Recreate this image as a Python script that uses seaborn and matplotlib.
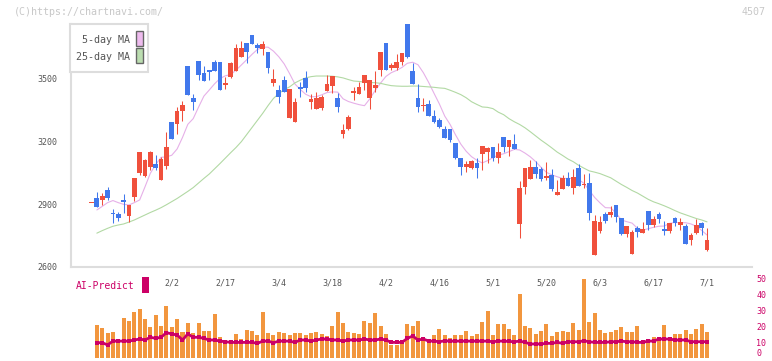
"""Candlestick chart of 4507 with 5/25-day moving averages and AI-Predict volume panel."""
import numpy as np
import pandas as pd
import seaborn as sns
import matplotlib.pyplot as plt
from matplotlib.patches import Rectangle

sns.set_style("white")
plt.rcParams["font.family"] = ["DejaVu Sans Mono"]


############################## Data (one entry per trading day).

opens = [2906, 2889, 2941, 2932, 2855, 2836, 2911, 2897, 3027, 3150,
         3112, 3150, 3075, 3117, 3173, 3214, 3347, 3375, 3425, 3390,
         3521, 3492, 3533, 3537, 3449, 3481, 3576, 3648, 3648, 3629,
         3667, 3648, 3667, 3553, 3500, 3415, 3438, 3452, 3390, 3451,
         3458, 3404, 3407, 3415, 3476, 3514, 3367, 3256, 3317, 3443,
         3462, 3519, 3495, 3471, 3628, 3541, 3567, 3580, 3623, 3607,
         3476, 3367, 3375, 3324, 3296, 3272, 3219, 3208, 3123, 3080,
         3093, 3107, 3072, 3179, 3168, 3123, 3149, 3176, 3208, 3165,
         2977, 3072, 3079, 3047, 3021, 3036, 2973, 2958, 3024, 2988,
         3032, 2988, 2997, 2857, 2820, 2814, 2822, 2865, 2838, 2758,
         2796, 2769, 2766, 2780, 2801, 2828, 2828, 2774, 2809, 2809,
         2817, 2710, 2753, 2801, 2785, 2729]
highs = [2906, 2958, 2956, 2983, 2876, 2865, 2948, 2897, 3027, 3150,
         3117, 3157, 3136, 3128, 3246, 3294, 3366, 3395, 3562, 3428,
         3588, 3560, 3541, 3589, 3581, 3508, 3581, 3667, 3680, 3672,
         3712, 3672, 3680, 3629, 3548, 3473, 3513, 3452, 3409, 3487,
         3538, 3427, 3439, 3423, 3519, 3514, 3431, 3283, 3328, 3463,
         3487, 3519, 3495, 3538, 3628, 3672, 3575, 3618, 3623, 3763,
         3575, 3474, 3410, 3399, 3352, 3312, 3275, 3261, 3195, 3123,
         3107, 3112, 3123, 3179, 3175, 3173, 3192, 3221, 3208, 3235,
         3012, 3072, 3112, 3107, 3080, 3101, 3069, 3016, 3040, 3056,
         3069, 3092, 3044, 3052, 2849, 2846, 2862, 2892, 2897, 2833,
         2796, 2777, 2796, 2814, 2868, 2844, 2865, 2820, 2809, 2838,
         2833, 2806, 2761, 2828, 2817, 2785]
lows = [2905, 2889, 2897, 2921, 2809, 2820, 2857, 2817, 2917, 3040,
        3029, 3064, 3064, 3016, 3071, 3214, 3238, 3299, 3425, 3352,
        3497, 3492, 3497, 3537, 3449, 3453, 3505, 3537, 3604, 3576,
        3667, 3624, 3616, 3529, 3465, 3385, 3438, 3313, 3294, 3415,
        3439, 3356, 3356, 3352, 3443, 3434, 3343, 3219, 3256, 3399,
        3430, 3447, 3356, 3439, 3512, 3541, 3543, 3543, 3567, 3602,
        3476, 3341, 3347, 3324, 3288, 3264, 3219, 3197, 3117, 3040,
        3053, 3069, 3027, 3064, 3096, 3107, 3096, 3152, 3133, 3165,
        2740, 2949, 3021, 3027, 3012, 3016, 2964, 2945, 2973, 2988,
        2949, 2988, 2977, 2825, 2657, 2761, 2809, 2838, 2817, 2753,
        2742, 2662, 2742, 2764, 2777, 2790, 2812, 2753, 2764, 2796,
        2777, 2710, 2705, 2758, 2753, 2678]
closes = [2905, 2932, 2921, 2969, 2860, 2852, 2921, 2844, 2937, 3049,
          3036, 3080, 3093, 3016, 3083, 3294, 3286, 3347, 3562, 3409,
          3588, 3529, 3541, 3581, 3581, 3473, 3508, 3537, 3604, 3672,
          3709, 3661, 3645, 3629, 3481, 3449, 3493, 3313, 3294, 3463,
          3506, 3391, 3356, 3363, 3443, 3468, 3407, 3238, 3261, 3433,
          3430, 3479, 3410, 3458, 3541, 3672, 3551, 3554, 3583, 3763,
          3538, 3410, 3371, 3379, 3323, 3304, 3261, 3261, 3195, 3123,
          3080, 3075, 3099, 3142, 3152, 3173, 3123, 3221, 3176, 3187,
          2806, 2984, 3021, 3079, 3069, 3027, 3040, 2945, 2973, 3024,
          2980, 3075, 2993, 3001, 2657, 2772, 2854, 2849, 2897, 2833,
          2758, 2662, 2785, 2764, 2868, 2801, 2854, 2780, 2774, 2833,
          2801, 2796, 2729, 2764, 2809, 2681]
ma5 = [np.nan, 2873, 2890, 2908, 2918, 2908, 2900, 2897, 2908, 2921,
       2984, 3049, 3090, 3125, 3127, 3135, 3165, 3220, 3283, 3310,
       3365, 3418, 3447, 3477, 3502, 3515, 3521, 3542, 3567, 3592,
       3618, 3641, 3652, 3652, 3633, 3606, 3572, 3526, 3476, 3450,
       3427, 3415, 3415, 3424, 3435, 3438, 3437, 3405, 3392, 3384,
       3377, 3372, 3405, 3445, 3480, 3512, 3530, 3541, 3555, 3575,
       3580, 3568, 3530, 3483, 3431, 3380, 3322, 3282, 3233, 3188,
       3154, 3128, 3111, 3098, 3109, 3123, 3136, 3142, 3152, 3163,
       3160, 3145, 3127, 3104, 3077, 3053, 3041, 3032, 3024, 3024,
       3024, 3020, 3000, 2967, 2933, 2907, 2884, 2883, 2858, 2825,
       2817, 2810, 2785, 2777, 2783, 2790, 2795, 2796, 2809, 2813,
       2812, 2812, 2806, 2795, 2775, 2753]
ma25 = [np.nan, 2762, 2774, 2785, 2795, 2801, 2806, 2815, 2825, 2837,
        2849, 2861, 2872, 2884, 2898, 2913, 2928, 2945, 2962, 2980,
        3002, 3024, 3045, 3070, 3095, 3121, 3147, 3172, 3200, 3234,
        3268, 3302, 3336, 3373, 3407, 3430, 3449, 3462, 3481, 3494,
        3505, 3511, 3514, 3514, 3514, 3513, 3510, 3505, 3497, 3490,
        3488, 3485, 3483, 3482, 3479, 3473, 3468, 3466, 3465, 3465,
        3466, 3466, 3464, 3462, 3460, 3457, 3455, 3446, 3436, 3425,
        3410, 3391, 3378, 3366, 3364, 3358, 3341, 3329, 3310, 3295,
        3282, 3266, 3247, 3227, 3207, 3189, 3170, 3150, 3134, 3117,
        3104, 3087, 3073, 3060, 3054, 3047, 3037, 3027, 3011, 2995,
        2981, 2966, 2954, 2939, 2924, 2912, 2903, 2893, 2882, 2870,
        2859, 2850, 2841, 2832, 2825, 2816]
volume = [np.nan, 20.7, 19.0, 15.7, 16.5, 11.3, 25.3, 23.2, 29.1, 30.7,
          24.5, 19.4, 27.0, 20.1, 32.6, 19.4, 24.5, 16.5, 22.2, 15.9,
          22.2, 16.9, 16.9, 27.8, 13.2, 11.3, 11.3, 15.1, 12.0, 17.5,
          16.9, 14.4, 29.1, 15.9, 14.4, 16.5, 15.9, 14.4, 15.9, 15.9,
          14.4, 15.9, 16.5, 15.1, 14.0, 20.1, 29.1, 22.2, 16.5, 15.9,
          15.1, 23.2, 22.2, 28.4, 20.1, 15.1, 8.2, 8.2, 10.9, 21.3,
          20.1, 23.2, 10.9, 10.9, 14.4, 18.2, 14.4, 12.8, 14.4, 14.4,
          17.1, 13.8, 15.1, 22.4, 29.5, 14.4, 21.3, 21.3, 18.2, 14.4,
          40.1, 20.1, 18.6, 15.1, 17.1, 21.3, 13.8, 16.5, 17.1, 16.5,
          22.2, 17.5, 49.5, 22.8, 28.4, 17.5, 15.5, 16.0, 17.5, 19.4,
          16.5, 16.0, 20.1, 11.3, 11.7, 13.2, 13.2, 21.0, 11.3, 15.1,
          15.1, 17.5, 15.1, 18.2, 21.3, 16.5]
ai_predict = [np.nan, 9.6, 9.6, 8.2, 10.6, 10.6, 10.6, 10.6, 11.3, 11.9,
              11.3, 13.0, 12.3, 13.0, 15.9, 15.1, 14.4, 11.3, 15.1, 13.0,
              13.0, 12.3, 11.3, 11.3, 10.6, 10.2, 9.8, 9.8, 9.8, 9.8,
              9.8, 9.2, 10.6, 10.6, 9.6, 10.6, 10.6, 10.6, 9.8, 11.3,
              11.3, 10.6, 11.3, 11.9, 11.9, 11.3, 11.3, 10.6, 11.3, 11.3,
              11.3, 11.9, 11.3, 11.3, 11.9, 11.3, 9.8, 9.8, 9.8, 12.3,
              13.8, 11.3, 11.9, 10.6, 10.6, 10.2, 10.8, 10.6, 10.6, 10.6,
              10.6, 10.6, 10.6, 10.6, 10.6, 10.2, 10.6, 10.6, 10.4, 10.2,
              10.6, 9.8, 8.8, 8.8, 8.8, 9.2, 9.2, 9.8, 9.2, 10.2,
              10.2, 10.2, 10.8, 10.2, 9.8, 9.8, 9.8, 10.2, 10.2, 10.6,
              10.2, 10.2, 9.8, 9.8, 10.6, 10.6, 11.9, 11.9, 11.9, 11.3,
              11.3, 11.3, 10.2, 10.2, 10.2, 10.2]
date_labels = ["2/2", "2/17", "3/4", "3/18", "4/2", "4/16",
               "5/1", "5/20", "6/3", "6/17", "7/1"]
label_days = [15, 25, 35, 45, 55, 65, 75, 85, 95, 105, 115]
price_ticks = [2600, 2900, 3200, 3500]
volume_ticks = [0, 10, 20, 30, 40, 50]

df = pd.DataFrame(dict(open=opens, high=highs, low=lows, close=closes,
                       ma5=ma5, ma25=ma25, volume=volume, ai=ai_predict))
df["day"] = np.arange(len(df))
df["up"] = df["close"] > df["open"]


############################## Figure layout (pixel based).

W, H = 772, 361
UP_COLOR = "#4178ec"
DOWN_COLOR = "#f0503c"
GRID_GRAY = "#dddddd"
TEXT_GRAY = "#555555"
MAGENTA = "#cc0066"
XLIM = (-3.83, 123.4)

fig = plt.figure(figsize=(W / 100, H / 100), dpi=100)


def px_axes(left, top, right, bottom):
    return fig.add_axes([left / W, 1 - bottom / H,
                         (right - left) / W, (bottom - top) / H])


ax2 = px_axes(71, 278.3, 752, 358)
ax = px_axes(71, 10, 752, 267)
ax.patch.set_visible(False)
ax2.patch.set_visible(False)


############################## Candles + moving averages.

for _, row in df.iterrows():
    color = UP_COLOR if row["up"] else DOWN_COLOR
    ax.vlines(row["day"], row["low"], row["high"], color=color, lw=0.75, zorder=3)
    body_low = min(row["open"], row["close"])
    body_h = max(abs(row["close"] - row["open"]), 4)
    ax.bar(row["day"], body_h, bottom=body_low, width=0.88,
           color=color, linewidth=0, zorder=4)

sns.lineplot(data=df, x="day", y="ma5", color="#e6b0e8", lw=0.8, ax=ax, zorder=2)
sns.lineplot(data=df, x="day", y="ma25", color="#b2d9a4", lw=0.8, ax=ax, zorder=2)

ax.set_xlim(*XLIM)
ax.set_ylim(2600, 3830)
ax.set_xlabel("")
ax.set_ylabel("")
for side in ["top", "right"]:
    ax.spines[side].set_visible(False)
for side in ["left", "bottom"]:
    ax.spines[side].set_color(GRID_GRAY)
    ax.spines[side].set_linewidth(1.5)
ax.spines["left"].set_bounds(2600, 3763)

frame_ticks = np.linspace(XLIM[0], XLIM[1], 12)
ax.set_xticks(frame_ticks)
ax.set_xticklabels([""] * len(frame_ticks))
ax.set_xticks(label_days, minor=True)
ax.set_xticklabels(date_labels, minor=True, fontsize=6, color=TEXT_GRAY)
ax.tick_params(axis="x", which="major", direction="inout", length=8,
               width=1.5, color=GRID_GRAY)
ax.tick_params(axis="x", which="minor", length=0, pad=8)
ax.set_yticks(price_ticks)
ax.set_yticklabels([str(t) for t in price_ticks], fontsize=6, color=TEXT_GRAY)
ax.tick_params(axis="y", direction="inout", length=8, width=1.5,
               color=GRID_GRAY, pad=6)


############################## Volume panel + AI-Predict line.

ax2.bar(df["day"], df["volume"], width=0.75, color="#f2963e", linewidth=0)
sns.lineplot(data=df, x="day", y="ai", color=MAGENTA, lw=2, marker="s",
             markersize=2.5, markeredgewidth=0, ax=ax2)
ax2.set_xlim(*XLIM)
ax2.set_ylim(0, 50)
ax2.set_xlabel("")
ax2.set_ylabel("")
for side in ax2.spines:
    ax2.spines[side].set_visible(False)
ax2.set_xticks([])
ax2.yaxis.tick_right()
ax2.set_yticks(volume_ticks)
ax2.set_yticklabels([str(t) for t in volume_ticks], fontsize=6, color=MAGENTA)
ax2.tick_params(axis="y", length=0, pad=3)
ax2.get_yticklabels()[0].set_va("bottom")


############################## Legend box, watermark, labels.

def fig_rect(left, top, right, bottom, **kw):
    fig.add_artist(Rectangle((left / W, 1 - bottom / H), (right - left) / W,
                             (bottom - top) / H, transform=fig.transFigure, **kw))


fig_rect(70, 24, 148.3, 71.7, facecolor="white", edgecolor=GRID_GRAY, lw=1.5, zorder=5)
fig_rect(136, 31, 142.7, 46, facecolor="#eebbee", edgecolor="#666666", lw=1, zorder=6)
fig_rect(136, 48.3, 142.7, 63.3, facecolor="#bbddb0", edgecolor="#666666", lw=1, zorder=6)
fig.text(129.5 / W, 1 - 40 / H, "5-day MA", fontsize=7.2, color=TEXT_GRAY,
         ha="right", va="center", zorder=6)
fig.text(129.5 / W, 1 - 56.7 / H, "25-day MA", fontsize=7.2, color=TEXT_GRAY,
         ha="right", va="center", zorder=6)

fig.text(14 / W, 1 - 12.3 / H, "(C)https://chartnavi.com/", fontsize=7.2,
         color="#c8c8c8", ha="left", va="center")
fig.text(766 / W, 1 - 12.3 / H, "4507", fontsize=7.2, color="#c8c8c8",
         ha="right", va="center")

fig.text(76 / W, 1 - 286 / H, "AI-Predict", fontsize=7, color=MAGENTA,
         ha="left", va="center")
fig_rect(141.7, 276.7, 149, 292.7, facecolor=MAGENTA, edgecolor="none", zorder=6)

fig.savefig("out.png", dpi=100)
plt.close(fig)
